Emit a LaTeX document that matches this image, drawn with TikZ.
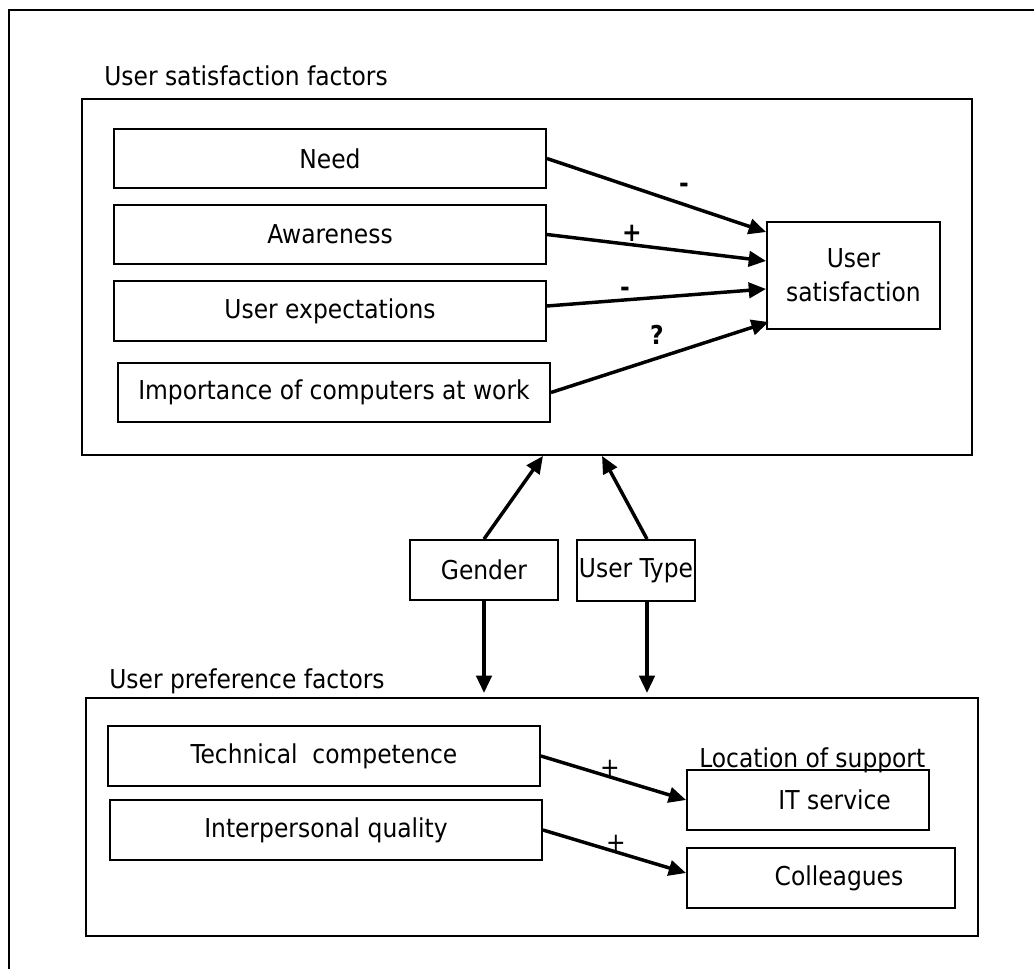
\documentclass[tikz,border=0pt]{standalone}
\usepackage{fontspec}
\setmainfont{DejaVu Sans Condensed}
\usetikzlibrary{arrows.meta}

\begin{document}
\begin{tikzpicture}[x=0.75pt,y=-0.75pt,
    txt/.style={font=\fontsize{19.5}{25.5}\selectfont},
    box/.style={draw,line width=1.4pt,inner sep=0pt,align=center,txt},
    groupbox/.style={draw,line width=1.4pt,inner sep=0pt},
    grouptitle/.style={anchor=base west,inner sep=0pt,txt},
    sign/.style={inner sep=0pt,font=\fontsize{19.5}{25.5}\selectfont\bfseries},
    thinsign/.style={inner sep=0pt,txt},
    arr/.style={line width=2.6pt,-{Triangle[length=13pt,width=11.5pt]}}]
      \useasboundingbox (0,0) rectangle (1034,969);
      \draw[line width=2pt] (9,969) -- (9,10) -- (1034,10);

      % satisfaction part
      \node[groupbox,minimum width=667.5pt,minimum height=267pt] (satgroup) at (527,277) {};
      \node[grouptitle] (sattitle) at (104,86) {User satisfaction factors};
      \node[box,minimum width=324pt,minimum height=44.25pt] (need) at (330,158.5) {Need};
      \node[box,minimum width=324pt,minimum height=44.25pt] (aware) at (330,234.5) {Awareness};
      \node[box,minimum width=324pt,minimum height=45pt] (expect) at (330,311) {User expectations};
      \node[box,minimum width=324pt,minimum height=44.25pt] (import) at (334,392.5) {Importance of computers at work};
      \node[box,minimum width=129.75pt,minimum height=80.25pt] (usersat) at (853.5,275.5) {User\\satisfaction};

      \draw[arr] (need.east) -- ([yshift=32.6pt]usersat.west);
      \draw[arr] (aware.east) -- ([yshift=10.9pt]usersat.west);
      \draw[arr] ([yshift=3.75pt]expect.east) -- ([yshift=-10.1pt]usersat.west);
      \draw[arr] (import.east) -- ([xshift=2pt,yshift=-34.9pt]usersat.west);
      \node[sign] (needsign) at (684,188) {-};
      \node[sign] (awaresign) at (632,233) {+};
      \node[sign] (expectsign) at (625,292) {-};
      \node[sign] (importsign) at (657,335) {?};

      % moderators
      \node[box,minimum width=111pt,minimum height=45pt] (gender) at (484,570) {Gender};
      \node[box,minimum width=89pt,minimum height=45.75pt] (utype) at (636,570.5) {User Type};
      \draw[arr] (gender.north) -- ([xshift=12pt]satgroup.south);
      \draw[arr] ([xshift=8.25pt]utype.north) -- ([xshift=56.25pt]satgroup.south);
      \coordinate (gdrop) at (484,693);
      \coordinate (tdrop) at (647,693);
      \draw[arr] (gender.south) -- (gdrop);
      \draw[arr] ([xshift=8.25pt]utype.south) -- (tdrop);

      % preference part
      \node[groupbox,minimum width=669pt,minimum height=178.5pt] (prefgroup) at (532,817) {};
      \node[grouptitle] (preftitle) at (109,688) {User preference factors};
      \node[box,minimum width=324pt,minimum height=45pt] (tech) at (324,756) {Technical\ \ competence};
      \node[box,minimum width=324pt,minimum height=45pt] (inter) at (326,830) {Interpersonal quality};
      \node[grouptitle] (loctitle) at (699,767) {Location of support};
      \node[box,minimum width=181.5pt,minimum height=45pt] (itserv) at (808,800) {\hspace*{40pt}IT service};
      \node[box,minimum width=201pt,minimum height=45pt] (colleag) at (821,878) {\hspace*{27pt}Colleagues};

      \draw[arr] (tech.east) -- (itserv.west);
      \draw[arr] (inter.east) -- ([yshift=3.75pt]colleag.west);
      \node[thinsign] (techsign) at (610,768) {+};
      \node[thinsign] (intersign) at (616,843) {+};
\end{tikzpicture}
\end{document}
